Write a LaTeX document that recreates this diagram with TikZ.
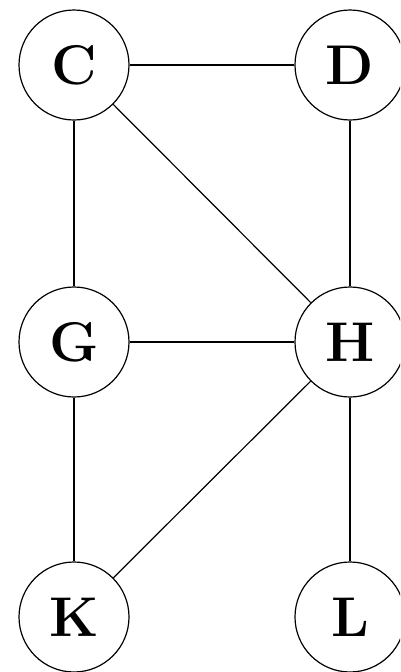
\documentclass[tikz,border=0pt]{standalone}
\begin{document}
\begin{tikzpicture}[x=1pt,y=-1pt,
  vtx/.style={circle,draw,line width=1.2pt,minimum size=110pt,inner sep=0pt,font=\fontsize{56}{60}\selectfont\bfseries},
  edge/.style={line width=1.2pt}]
\clip (0,0) rectangle (400,672);
\useasboundingbox (0,0) rectangle (400,672);
\node[vtx] (C) at (74,65) {C};
\node[vtx] (D) at (350,65) {D};
\node[vtx] (G) at (74,342) {G};
\node[vtx] (H) at (350,342) {H};
\node[vtx] (K) at (74,617) {K};
\node[vtx] (L) at (350,617) {L};
\draw[edge] (C) -- (D);
\draw[edge] (C) -- (G);
\draw[edge] (C) -- (H);
\draw[edge] (D) -- (H);
\draw[edge] (G) -- (H);
\draw[edge] (G) -- (K);
\draw[edge] (H) -- (K);
\draw[edge] (H) -- (L);
\end{tikzpicture}
\end{document}
